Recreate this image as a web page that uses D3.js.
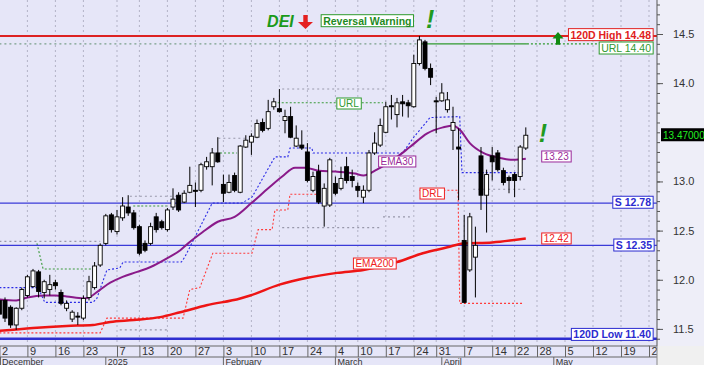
<!DOCTYPE html>
<html>
<head>
<meta charset="utf-8">
<script src="https://cdn.jsdelivr.net/npm/d3@7"></script>
<style>
  body { margin: 0; background: #fff; }
  svg { display: block; font-family: "Liberation Sans", Arial, sans-serif; }
</style>
</head>
<body>
<svg id="chart" width="704" height="365"></svg>
<script>
// ------------------------------------------------------------
// DEI daily candles, Dec 2024 - Apr 2025, with EMA30 / EMA200,
// stop lines and support / resistance levels.
// ------------------------------------------------------------

// One value per trading day (index 0 = 2 Dec).
const opens = [11.79,11.79,11.72,11.54,11.71,11.84,11.93,12.08,11.87,11.90,
  11.97,11.87,11.71,11.60,11.63,11.61,11.82,11.92,12.15,12.37,
  12.66,12.49,12.63,12.74,12.68,12.54,12.37,12.37,12.64,12.59,
  12.51,12.74,12.86,12.79,12.89,12.91,12.91,13.15,13.15,13.29,
  12.97,12.89,13.06,12.89,13.35,13.40,13.45,13.60,13.54,13.76,
  13.74,13.62,13.66,13.36,13.37,13.30,12.91,13.10,12.75,12.76,
  12.98,12.93,13.15,13.05,12.95,12.84,12.91,13.29,13.37,13.50,
  13.77,13.68,13.81,13.80,13.76,14.20,14.42,14.15,13.82,13.82,
  13.73,13.52,13.35,12.40,12.10,12.23,13.26,12.86,13.26,13.29,
  13.11,13.04,13.07,13.05,13.34];
const highs = [11.83,11.82,11.74,11.72,11.92,12.05,12.11,12.10,12.00,12.05,
  12.00,11.90,11.79,11.69,11.67,11.84,12.04,12.18,12.37,12.67,
  12.68,12.71,12.84,12.86,12.71,12.56,12.40,12.58,12.68,12.61,
  12.73,12.93,12.89,12.91,13.15,12.99,13.19,13.25,13.34,13.45,
  13.07,13.07,13.09,13.37,13.47,13.49,13.63,13.64,13.83,13.85,
  13.94,13.73,13.76,13.57,13.52,13.39,13.10,13.17,12.98,13.24,
  13.05,13.15,13.25,13.12,12.99,12.96,13.32,13.50,13.64,13.81,
  13.88,13.85,13.88,13.83,14.29,14.48,14.44,14.20,13.86,14.00,
  13.91,13.76,13.54,12.66,12.68,12.54,13.35,13.12,13.35,13.32,
  13.14,13.06,13.09,13.37,13.55];
const lows = [11.61,11.57,11.51,11.49,11.69,11.82,11.92,11.82,11.81,11.84,
  11.90,11.74,11.68,11.57,11.54,11.59,11.79,11.90,12.13,12.35,
  12.48,12.46,12.60,12.65,12.51,12.25,12.28,12.35,12.48,12.51,
  12.49,12.71,12.69,12.78,12.88,12.74,12.89,13.12,12.96,13.19,
  12.79,12.88,12.89,12.88,13.34,13.27,13.44,13.50,13.52,13.73,
  13.70,13.49,13.44,13.35,13.32,12.99,12.89,12.77,12.54,12.74,
  12.86,12.91,12.98,12.94,12.84,12.78,12.89,13.27,13.35,13.49,
  13.63,13.55,13.66,13.65,13.75,14.18,14.13,13.98,13.49,13.81,
  13.70,13.32,12.81,11.76,12.08,11.82,12.71,12.48,13.01,13.10,
  12.96,12.88,12.84,13.01,13.32];
const closes = [11.65,11.61,11.54,11.71,11.90,12.03,12.09,11.88,11.98,11.95,
  11.94,11.76,11.76,11.67,11.62,11.81,11.98,12.14,12.35,12.65,
  12.51,12.64,12.75,12.68,12.53,12.27,12.30,12.54,12.51,12.53,
  12.71,12.82,12.71,12.88,12.96,12.90,13.17,13.20,13.29,13.20,
  12.88,12.99,12.91,13.36,13.42,13.46,13.59,13.52,13.71,13.81,
  13.71,13.66,13.45,13.44,13.34,13.01,13.05,12.79,12.93,13.22,
  12.88,13.03,13.01,13.01,12.91,12.91,13.29,13.39,13.57,13.76,
  13.76,13.80,13.79,13.77,14.20,14.44,14.15,14.06,13.81,13.90,
  13.83,13.60,13.33,11.77,12.64,12.35,12.86,13.07,13.20,13.12,
  12.99,13.01,13.01,13.35,13.47];

// Moving averages, read at [day index, price].
const ema30 = [[0,11.80],[3,11.79],[5,11.82],[8,11.84],[10,11.84],[12,11.83],[15,11.81],
  [16,11.82],[18,11.90],[19.8,11.97],[22,12.03],[24.6,12.08],[27,12.13],[30,12.22],
  [32.3,12.30],[33.7,12.37],[36.2,12.48],[39,12.59],[42,12.64],[45,12.78],[48,12.93],
  [50.5,13.05],[52.8,13.14],[54.6,13.14],[57,13.11],[60,13.10],[63.5,13.08],[65,13.06],
  [67.4,13.12],[70.3,13.22],[73.3,13.35],[76.4,13.49],[79.2,13.55],[81,13.57],
  [82.3,13.52],[84,13.39],[86.4,13.29],[89.4,13.24],[91.7,13.22],[94,13.23]];
const ema200 = [[0,11.48],[6,11.51],[12,11.53],[16.7,11.54],[19.8,11.57],[24,11.59],
  [28.7,11.62],[32.3,11.67],[37,11.74],[43,11.81],[44.8,11.84],[50,11.95],[55,12.02],
  [60.3,12.07],[65,12.10],[71,12.18],[75.6,12.27],[80,12.33],[82.8,12.37],[88,12.38],
  [94,12.42]];

// Trailing stop lines.
const upperStop = [[0,11.92],[6.9,11.92],[8.1,11.77],[16.7,11.77],[17.4,11.81],[19.2,12.10],
  [21.5,12.12],[22.1,12.18],[32.5,12.18],[33.1,12.23],[38,12.78],[43.3,12.78],[45.1,12.84],
  [49.2,13.25],[51.5,13.25],[51.9,13.34],[55.8,13.34],[56,13.29],[72,13.29],[74,13.45],
  [76.9,13.65],[82.2,13.66],[82.6,13.09],[93.5,13.09]];
const lowerStopA = [[0,11.46],[18,11.46],[19.2,11.61],[32.8,11.61],[34,11.90],[35.8,11.92],
  [38.1,12.27],[45.1,12.27],[46.2,12.51],[48.7,12.51],[49.2,12.71],[51.5,12.71],
  [51.9,12.87],[56.9,12.87]];
const lowerStopB = [[75,12.91],[81.9,12.91],[82.2,11.76],[93.5,11.76]];

// Earlier resistance (green) and older levels (grey).
const urlSteps = [
  [[6.7,12.37],[7.8,12.11],[16.7,12.11]],
  [[23.9,12.75],[29.9,12.75]],
  [[39.4,13.29],[42.4,13.29]],
  [[49.7,13.80],[68.5,13.80]]
];
const greyLevels = [
  [[0,12.39],[18,12.39]],
  [[21.5,11.49],[29.9,11.49]],
  [[23.3,12.85],[32.3,12.85]],
  [[39.1,13.44],[43.9,13.44]],
  [[50.5,13.94],[68.9,13.94]],
  [[50.5,12.53],[68,12.53]],
  [[68.5,12.64],[73.3,12.64]],
  [[84.6,12.92],[94,12.92]]
];

// Horizontal levels.
const levelPrices = [14.48, 12.78, 12.35, 11.40];
const levelNames = ["120D High 14.48", "S 12.78", "S 12.35", "120D Low 11.40"];
const urlLevel = 14.40;

// Axis labels.
const xTickIdx = [0,5,10,15,21,25,30,35,40,45,50,55,60,64,69,74,78,83,88,92,96,101,106,111,116];
const xTickLabels = ["2","9","16","23","7","13","20","27","3","10","17","24","4","10","17","24","31","7","14","22","28","5","12","19","26"];
const monthIdx = [0,19,40,60,79,99];
const monthLabels = ["December","2025","February","March","April","May"];
const priceTicks = [11.5,12,12.5,13,14,14.5];
const lastPrice = 13.47;

// ------------------------------------------------------------
const svg = d3.select("#chart");
const plotW = 657, plotH = 346;

const x = d3.scaleLinear().domain([0, 116]).range([-0.6, 649]);
const y = d3.scaleLinear().domain([11.5, 14.5]).range([328.9, 34]);

// Backgrounds.
svg.append("rect").attr("width", 704).attr("height", 365).attr("fill", "#f0f0f0");
svg.append("rect").attr("width", plotW).attr("height", 365).attr("fill", "#e6e6f8");
svg.append("rect").attr("x", plotW).attr("width", 704 - plotW).attr("height", plotH).attr("fill", "#eeeef8");

svg.append("clipPath").attr("id", "clip")
  .append("rect").attr("width", plotW).attr("height", plotH);
svg.append("clipPath").attr("id", "clipAxis")
  .append("rect").attr("width", plotW).attr("height", 365);
const plot = svg.append("g").attr("clip-path", "url(#clip)");

// Vertical dotted gridlines.
plot.selectAll(".grid").data(xTickIdx).enter().append("line")
  .attr("x1", d => x(d)).attr("x2", d => x(d))
  .attr("y1", 0).attr("y2", plotH)
  .attr("stroke", "#b2b2c6").attr("stroke-dasharray", "2,3");

const line = d3.line().x(d => x(d[0])).y(d => y(d[1]));
const smooth = d3.line().curve(d3.curveMonotoneX).x(d => x(d[0])).y(d => y(d[1]));

function dotted(pts, color, dash) {
  plot.append("path").attr("d", line(pts)).attr("fill", "none")
    .attr("stroke", color).attr("stroke-width", 1.1).attr("stroke-dasharray", dash);
}

greyLevels.forEach(s => dotted(s, "#9898aa", "2,3"));
urlSteps.forEach(s => dotted(s, "#3a9a3a", "2,2"));
dotted(upperStop, "#2a2ae6", "2,2");
dotted(lowerStopA, "#ff3b3b", "2,2");
dotted(lowerStopB, "#ff3b3b", "2,2");

// URL 14.40 level: dotted history, solid recent part, dotted projection.
dotted([[0, urlLevel], [75.1, urlLevel]], "#7aa08a", "2,3");
plot.append("path").attr("d", line([[75.1, urlLevel], [94.2, urlLevel]]))
  .attr("stroke", "#2f9a2f").attr("stroke-width", 1.2);
dotted([[94.2, urlLevel], [108.5, urlLevel]], "#2f9a2f", "2,2");

// Support / resistance levels.
const levelColors = ["#dd2222", "#3a3ad8", "#3a3ad8", "#2e2ed0"];
const levelWidths = [2, 1.3, 1.3, 2.5];
levelPrices.forEach((p, k) => {
  plot.append("line").attr("x1", 0).attr("x2", plotW)
    .attr("y1", y(p)).attr("y2", y(p))
    .attr("stroke", levelColors[k]).attr("stroke-width", levelWidths[k]);
});

// Moving averages.
plot.append("path").attr("d", smooth(ema200)).attr("fill", "none")
  .attr("stroke", "#ee1515").attr("stroke-width", 2.5);
plot.append("path").attr("d", smooth(ema30)).attr("fill", "none")
  .attr("stroke", "#8a1a8a").attr("stroke-width", 2);

// Candles.
const candles = plot.selectAll(".candle").data(d3.range(opens.length)).enter()
  .append("g").attr("class", "candle");
candles.append("line")
  .attr("x1", i => x(i)).attr("x2", i => x(i))
  .attr("y1", i => y(highs[i])).attr("y2", i => y(lows[i]))
  .attr("stroke", "#000").attr("stroke-width", 1);
candles.append("rect")
  .attr("x", i => x(i) - 2).attr("width", 4)
  .attr("y", i => y(Math.max(opens[i], closes[i])))
  .attr("height", i => Math.max(1, Math.abs(y(opens[i]) - y(closes[i]))))
  .attr("fill", i => closes[i] >= opens[i] ? "#fff" : "#000")
  .attr("stroke", "#000").attr("stroke-width", 0.9);

// Boxed labels.
function tag(txt, px, py, color, opt) {
  opt = opt || {};
  const g = svg.append("g");
  const t = g.append("text").text(txt)
    .attr("x", px).attr("y", py).attr("dy", "0.35em")
    .attr("font-size", opt.size || 10)
    .attr("font-weight", opt.bold ? "bold" : "normal")
    .attr("text-anchor", opt.anchor || "start")
    .attr("fill", opt.textColor || color);
  const b = t.node().getBBox();
  g.insert("rect", "text")
    .attr("x", b.x - 2).attr("y", b.y).attr("width", b.width + 4).attr("height", b.height)
    .attr("fill", opt.fill || "#fff").attr("stroke", color).attr("stroke-width", 1);
  return g;
}

tag(levelNames[0], 651, y(levelPrices[0]) - 1, "#e02020", { anchor: "end", bold: true, size: 10.5 });
tag("URL " + urlLevel.toFixed(2), 651, y(urlLevel) + 4.5, "#2f9a2f", { anchor: "end", size: 10.5 });
tag(levelNames[1], 651, y(levelPrices[1]) - 0.5, "#2b2bd0", { anchor: "end", bold: true, size: 10.5 });
tag(levelNames[2], 652, y(levelPrices[2]), "#2b2bd0", { anchor: "end", bold: true, size: 10.5 });
tag(levelNames[3], 651, y(levelPrices[3]) - 4, "#2b2bd0", { anchor: "end", bold: true, size: 10.5 });

tag("URL", x(62.4), y(13.793), "#2f9a2f", { anchor: "middle", size: 10 });
tag("EMA30", x(71), y(13.203), "#9a2a9a", { anchor: "middle", size: 10 });
tag("EMA200", x(67), y(12.165), "#ee2020", { anchor: "middle", size: 10 });
tag("DRL", x(77.25), y(12.877), "#ee2020", { anchor: "middle", size: 10 });
tag(ema30[ema30.length - 1][1].toFixed(2), x(97.2), y(13.254), "#9a2a9a", { size: 10 });
tag(ema200[ema200.length - 1][1].toFixed(2), x(97.2), y(12.42), "#ee2020", { size: 10 });

// Top annotations.
svg.append("text").text("DEI").attr("x", x(47.8)).attr("y", y(14.571))
  .attr("font-size", 16).attr("font-weight", "bold").attr("font-style", "italic")
  .attr("fill", "#1a9a1a");
{
  const cx = x(54.66), t0 = y(14.693), t1 = y(14.551);
  svg.append("path")
    .attr("d", `M${cx - 2.2},${t0}H${cx + 2.2}V${t1 - 7}H${cx + 7.5}L${cx},${t1}L${cx - 7.5},${t1 - 7}H${cx - 2.2}Z`)
    .attr("fill", "#e52020");
}
tag("Reversal Warning", x(65.7), y(14.632), "#2f9a2f", { anchor: "middle", bold: true, size: 10.5, textColor: "#1f8a1f" });
svg.append("text").text("!").attr("x", x(76.9)).attr("y", y(14.561))
  .attr("text-anchor", "middle").attr("font-size", 25).attr("font-weight", "bold")
  .attr("font-style", "italic").attr("fill", "#1f9a1f");
svg.append("text").text("!").attr("x", x(97.07)).attr("y", y(13.40))
  .attr("text-anchor", "middle").attr("font-size", 25).attr("font-weight", "bold")
  .attr("font-style", "italic").attr("fill", "#1f9a1f");
{
  const cx = x(99.75), t0 = y(14.52), t1 = y(14.39);
  svg.append("path")
    .attr("d", `M${cx},${t0}L${cx + 5.5},${t0 + 6.5}H${cx + 2}V${t1}H${cx - 2}V${t0 + 6.5}H${cx - 5.5}Z`)
    .attr("fill", "#118a11");
}

// Right price axis.
const minorAxis = d3.axisRight(y).tickValues(d3.range(114, 149).map(v => v / 10))
  .tickSize(3).tickFormat("");
const majorAxis = d3.axisRight(y).tickValues(priceTicks).tickSize(6).tickPadding(10)
  .tickFormat(d3.format(".1f"));
const ya = svg.append("g").attr("transform", `translate(${plotW},0)`);
ya.append("g").call(minorAxis).call(g => g.select(".domain").remove());
ya.append("g").call(majorAxis).call(g => g.select(".domain").remove());
ya.selectAll("line").attr("stroke", "#555");
ya.selectAll("text").attr("font-size", 11).attr("fill", "#333")
  .attr("font-family", "Liberation Sans, Arial, sans-serif");
ya.append("line").attr("y1", 0).attr("y2", plotH).attr("stroke", "#555");

// Last price box.
svg.append("rect").attr("x", 661).attr("y", y(lastPrice) - 7).attr("width", 44).attr("height", 13)
  .attr("fill", "#000");
svg.append("text").text(lastPrice.toFixed(5)).attr("x", 663).attr("y", y(lastPrice))
  .attr("dy", "0.35em").attr("font-size", 10).attr("fill", "#22ee22");

// Bottom date axis.
const bottom = svg.append("g").attr("clip-path", "url(#clipAxis)");
const xa = bottom.append("g").attr("transform", `translate(0,${plotH})`);
xa.call(d3.axisBottom(x).tickValues(xTickIdx).tickSize(11).tickFormat((d, i) => xTickLabels[i]))
  .call(g => g.select(".domain").remove());
xa.selectAll("line").attr("stroke", "#666");
xa.selectAll("text").attr("text-anchor", "start").attr("x", 2).attr("y", 1)
  .attr("font-size", 11).attr("fill", "#333")
  .attr("font-family", "Liberation Sans, Arial, sans-serif");
bottom.append("line").attr("x1", 0).attr("x2", plotW).attr("y1", plotH).attr("y2", plotH).attr("stroke", "#666");
bottom.append("line").attr("x1", 0).attr("x2", plotW).attr("y1", 357).attr("y2", 357).attr("stroke", "#666");
bottom.selectAll(".month").data(monthIdx).enter().append("line")
  .attr("x1", d => Math.max(0.5, x(d))).attr("x2", d => Math.max(0.5, x(d)))
  .attr("y1", 357).attr("y2", 365).attr("stroke", "#666");
bottom.selectAll(".monthLabel").data(monthIdx).enter().append("text")
  .attr("x", d => Math.max(0, x(d)) + 2).attr("y", 364.5)
  .attr("font-size", 9).attr("fill", "#333")
  .text((d, i) => monthLabels[i]);
svg.append("line").attr("x1", plotW).attr("x2", plotW).attr("y1", plotH).attr("y2", 365).attr("stroke", "#888");
</script>
</body>
</html>
